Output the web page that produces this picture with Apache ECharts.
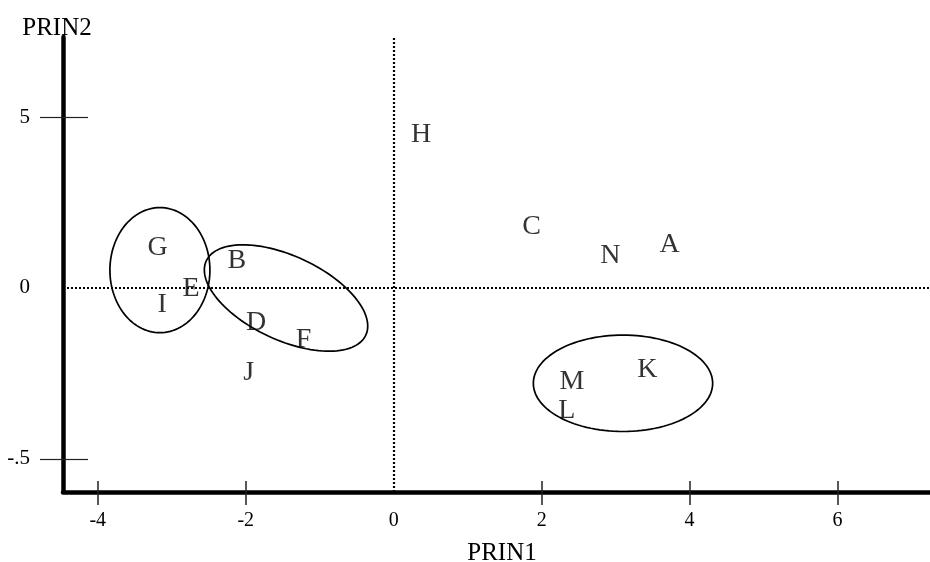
<!DOCTYPE html>
<html>
<head>
<meta charset="utf-8">
<title>PRIN1 vs PRIN2</title>
<script src="https://cdn.jsdelivr.net/npm/echarts@6/dist/echarts.min.js"></script>
<style>
  html, body { margin: 0; padding: 0; background: #fff; }
  #chart { width: 930px; height: 562px; }
</style>
</head>
<body>
<div id="chart"></div>
<script>
// Observation labels and their principal-component scores
const names = ['A', 'B', 'C', 'D', 'E', 'F', 'G', 'H', 'I', 'J', 'K', 'L', 'M', 'N'];
const prin1 = [3.73, -2.12, 1.865, -1.86, -2.74, -1.22, -3.19, 0.37, -3.13, -1.96, 3.43, 2.34, 2.41, 2.93];
const prin2 = [1.30, 0.83, 1.83, -0.99, 0.0, -1.47, 1.20, 4.51, -0.46, -2.45, -2.36, -3.56, -2.70, 0.98];

// Tick positions and their printed labels
const xTicks = [-4, -2, 0, 2, 4, 6];
const xTickMarks = [-4, -2, 2, 4, 6];
const yTicks = [-5, 0, 5];
const yTickLabels = ['-.5', '0', '5'];
const yTickMarks = [-5, 5];

// Cluster outlines in data units: centre x, centre y, then two semi-axis vectors
const clusterEllipses = [
  [-3.16, 0.52, 0.676, 0, 0, 1.83],
  [-1.455, -0.295, 1.078, -1.088, -0.24, -1.113],
  [3.10, -2.79, 1.212, 0, 0, 1.41]
];

const serif = 'Liberation Serif';
const chart = echarts.init(document.getElementById('chart'), null, { renderer: 'canvas' });

const xRange = { min: -4.47, max: 7.25 };
const yRange = { min: -5.97, max: 7.34 };

chart.setOption({
  backgroundColor: '#ffffff',
  animation: false,
  grid: { left: 63, right: 0, top: 37, bottom: 70, containLabel: false, outerBoundsMode: 'none' },
  xAxis: [
    {
      type: 'value', min: xRange.min, max: xRange.max,
      name: 'PRIN1', nameLocation: 'middle', nameGap: 49,
      nameTextStyle: { fontFamily: serif, fontSize: 25, color: '#000', padding: [0, 0, 0, 11] },
      axisLine: { show: true, onZero: false, lineStyle: { color: '#000', width: 4.5 } },
      axisTick: { show: true, length: 13, customValues: xTickMarks, lineStyle: { color: '#222', width: 1.5 } },
      axisLabel: { show: true, customValues: xTicks, margin: 19, fontFamily: serif, fontSize: 20, color: '#000' },
      splitLine: { show: false }
    },
    {
      type: 'value', min: xRange.min, max: xRange.max, position: 'bottom',
      axisLine: { show: false, onZero: false },
      axisTick: { show: true, inside: true, length: 11, customValues: xTickMarks, lineStyle: { color: '#222', width: 1.5 } },
      axisLabel: { show: false },
      splitLine: { show: false }
    }
  ],
  yAxis: [
    {
      type: 'value', min: yRange.min, max: yRange.max,
      name: 'PRIN2', nameLocation: 'end', nameGap: -4,
      nameTextStyle: { fontFamily: serif, fontSize: 25, color: '#000', align: 'center', padding: [0, 12, 0, 0] },
      axisLine: { show: true, onZero: false, lineStyle: { color: '#000', width: 4.5 } },
      axisTick: { show: true, length: 23, customValues: yTickMarks, lineStyle: { color: '#222', width: 1.2 } },
      axisLabel: {
        show: true, customValues: yTicks, margin: 33, fontFamily: serif, fontSize: 21, color: '#000',
        formatter: v => yTickLabels[yTicks.indexOf(v)]
      },
      splitLine: { show: false }
    },
    {
      type: 'value', min: yRange.min, max: yRange.max, position: 'left',
      axisLine: { show: false, onZero: false },
      axisTick: { show: true, inside: true, length: 25, customValues: yTickMarks, lineStyle: { color: '#222', width: 1.2 } },
      axisLabel: { show: false },
      splitLine: { show: false }
    }
  ],
  series: [
    {
      // Observation letters plotted at their scores, with dotted reference lines at zero
      type: 'scatter',
      xAxisIndex: 0, yAxisIndex: 0,
      symbolSize: 1,
      itemStyle: { color: 'rgba(0,0,0,0)' },
      data: names.map((n, i) => ({ name: n, value: [prin1[i], prin2[i]] })),
      label: {
        show: true, position: 'inside', formatter: '{b}', offset: [0, 1],
        fontFamily: serif, fontSize: 28, color: '#000'
      },
      markLine: {
        silent: true, symbol: 'none', animation: false,
        label: { show: false },
        lineStyle: { color: '#000', type: [2, 2], width: 2.2 },
        data: [{ xAxis: 0 }, { yAxis: 0 }]
      },
      z: 3
    },
    {
      // Cluster outlines
      type: 'custom',
      xAxisIndex: 0, yAxisIndex: 0,
      data: clusterEllipses,
      renderItem: (params, api) => {
        const cx = api.value(0), cy = api.value(1);
        const ux = api.value(2), uy = api.value(3);
        const vx = api.value(4), vy = api.value(5);
        const pts = [];
        const n = 120;
        for (let k = 0; k <= n; k++) {
          const t = (k / n) * Math.PI * 2;
          pts.push(api.coord([cx + Math.cos(t) * ux + Math.sin(t) * vx,
                              cy + Math.cos(t) * uy + Math.sin(t) * vy]));
        }
        return {
          type: 'polygon',
          shape: { points: pts },
          style: { fill: 'none', stroke: '#000', lineWidth: 1.7 }
        };
      },
      z: 2
    }
  ]
});
</script>
</body>
</html>
